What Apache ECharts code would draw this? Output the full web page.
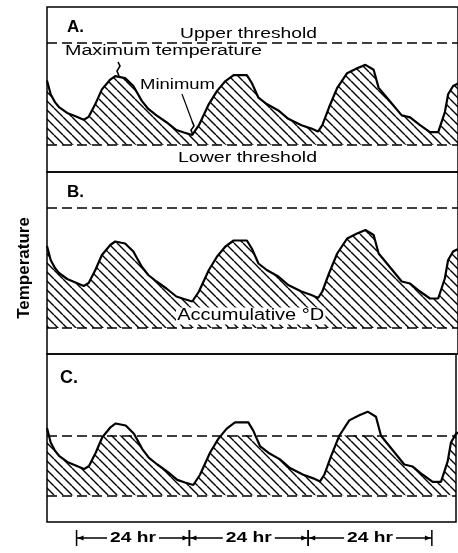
<!DOCTYPE html>
<html><head><meta charset="utf-8">
<script src="https://cdn.jsdelivr.net/npm/echarts@6/dist/echarts.min.js"></script>
<style>html,body{margin:0;padding:0;background:#fff}#c{width:458px;height:553px}</style>
</head><body><div id="c"></div>
<script>
// ---- data ----
const hours = [0, 0.75, 1.62, 2.44, 4.12, 5.82, 7.51, 8.52, 9.88, 11.22, 12.93, 13.94, 15.97, 17.65, 19.34, 20.7, 22.38, 24.41, 26.44, 28.0, 29.69, 31.05, 33.08, 34.76, 36.47, 38.15, 40.85, 41.86, 43.22, 44.91, 47.28, 49.31, 52.01, 54.04, 55.4, 56.27, 57.63, 59.31, 61.34, 63.37, 65.08, 66.76, 67.78, 69.14, 72.5, 74.21, 76.24, 78.27, 79.95, 81.31, 81.98, 83.0, 84.0];
const temperature = [26.4, 23.6, 22.0, 21.0, 19.8, 19.1, 18.4, 19.0, 21.6, 24.6, 26.6, 27.3, 26.9, 25.3, 22.3, 20.6, 19.3, 17.9, 16.3, 15.8, 15.3, 17.3, 21.6, 24.3, 26.3, 27.5, 27.5, 25.9, 22.9, 21.6, 20.3, 18.6, 17.3, 16.6, 16.0, 17.3, 20.9, 24.9, 27.9, 28.9, 29.6, 28.6, 24.9, 23.3, 19.3, 18.9, 17.3, 15.9, 15.9, 19.9, 23.6, 25.3, 25.8];
const panelLabels = ['A.', 'B.', 'C.'];
const lowerThreshold = [13.3, 10.0, 13.3];
const upperThreshold = [34.1, 34.0, 25.0];
const dayBoundaries = [6.0, 28.9, 53.0, 78.1];
const spanLabel = '24 hr';
const axisTitle = 'Temperature';

// ---- layout (pixels / axis ranges) ----
const layout = [
  {top: 7,   height: 165, yMin: 7.75, yMax: 41.4,  right: -3, xMax: 84.0},
  {top: 172, height: 182, yMin: 4.8,  yMax: 41.2,  right: -3, xMax: 84.0},
  {top: 354, height: 168, yMin: 8.09, yMax: 40.84, right: 2,  xMax: 83.0}
];
const LEFT = 47;

function hatchPattern() {
  const s = 9, c = document.createElement('canvas');
  c.width = s; c.height = s;
  const g = c.getContext('2d');
  g.strokeStyle = '#000'; g.lineWidth = 1.4;
  g.beginPath();
  for (const o of [-s, 0, s]) { g.moveTo(o, 0); g.lineTo(o + s, s); }
  g.stroke();
  return c;
}
const hatch = {image: hatchPattern(), repeat: 'repeat'};
const curve = hours.map((h, i) => [h, temperature[i]]);

const mctx = document.createElement('canvas').getContext('2d');
const FONT = '"Liberation Sans", Arial, Helvetica, sans-serif';
function txt(t, left, cy, size, targetW, weight, extra) {
  const font = (weight || 'normal') + ' ' + size + 'px ' + FONT;
  mctx.font = font;
  const sx = targetW ? targetW / mctx.measureText(t).width : 1;
  return {
    type: 'text', x: left, y: cy, scaleX: sx, z: 100,
    style: Object.assign({text: t, font: font, fill: '#000', align: 'left', verticalAlign: 'middle'}, (extra || {}))
  };
}

const grids = [], xAxes = [], yAxes = [], series = [];
function addAxes(gi, xMax, yMin, yMax) {
  xAxes.push({type: 'value', gridIndex: gi, min: 0, max: xMax, show: false});
  yAxes.push({type: 'value', gridIndex: gi, min: yMin, max: yMax, show: false});
}
const dashed = {color: '#000', type: [10, 5], width: 1.5};

layout.forEach((L, i) => {
  grids.push({left: LEFT, right: L.right, top: L.top, height: L.height, show: true,
              borderColor: '#000', borderWidth: 1.5, backgroundColor: 'transparent'});
  addAxes(i, L.xMax, L.yMin, L.yMax);
  const s = {
    type: 'line', xAxisIndex: i, yAxisIndex: i, data: curve, symbol: 'none',
    lineStyle: {color: '#000', width: 2.2}, z: 3, silent: true,
    markLine: {silent: true, symbol: ['none', 'none'], label: {show: false}, lineStyle: dashed,
               data: [{yAxis: lowerThreshold[i]}, {yAxis: upperThreshold[i]}]}
  };
  if (i < 2) s.areaStyle = {color: hatch, opacity: 1, origin: lowerThreshold[i]};
  series.push(s);
});

// Panel C: hatch only up to the upper threshold -> clip grid ending at the threshold
{
  const L = layout[2];
  const topC = L.top + (L.yMax - upperThreshold[2]) / (L.yMax - L.yMin) * L.height;
  grids.push({left: LEFT, right: L.right, top: topC, height: L.top + L.height - topC, show: false});
  addAxes(3, L.xMax, L.yMin, upperThreshold[2]);
  series.push({type: 'line', xAxisIndex: 3, yAxisIndex: 3, data: curve, symbol: 'none', clip: true,
               lineStyle: {width: 0, opacity: 0}, z: 2, silent: true,
               areaStyle: {color: hatch, opacity: 1, origin: lowerThreshold[2]}});
}

// 24 hr span markers
{
  const L = layout[2];
  grids.push({left: LEFT, right: L.right, top: 528, height: 20, show: false});
  addAxes(4, L.xMax, 0, 1);
  const spans = [];
  for (let k = 0; k < dayBoundaries.length - 1; k++) spans.push([dayBoundaries[k], dayBoundaries[k + 1]]);
  mctx.font = 'bold 15px ' + FONT;
  const labelScale = 46 / mctx.measureText(spanLabel).width;
  series.push({
    type: 'custom', xAxisIndex: 4, yAxisIndex: 4, data: spans, silent: true,
    renderItem: function (params, api) {
      const p0 = api.coord([api.value(0), 0.5]);
      const p1 = api.coord([api.value(1), 0.5]);
      const y = p0[1];
      const mid = (p0[0] + p1[0]) / 2;
      const gap = 26;
      const st = {stroke: '#000', lineWidth: 1.5};
      return {type: 'group', children: [
        {type: 'line', shape: {x1: p0[0], y1: y, x2: mid - gap, y2: y}, style: st},
        {type: 'line', shape: {x1: mid + gap, y1: y, x2: p1[0], y2: y}, style: st},
        {type: 'line', shape: {x1: p0[0], y1: y - 8, x2: p0[0], y2: y + 8}, style: st},
        {type: 'line', shape: {x1: p1[0], y1: y - 8, x2: p1[0], y2: y + 8}, style: st},
        {type: 'polygon', shape: {points: [[p0[0] + 1, y], [p0[0] + 7, y - 2.5], [p0[0] + 7, y + 2.5]]}, style: {fill: '#000'}},
        {type: 'polygon', shape: {points: [[p1[0] - 1, y], [p1[0] - 7, y - 2.5], [p1[0] - 7, y + 2.5]]}, style: {fill: '#000'}},
        {type: 'text', x: mid, y: y, scaleX: labelScale,
         style: {text: spanLabel, font: 'bold 15px ' + FONT, fill: '#000', align: 'center', verticalAlign: 'middle'}}
      ]};
    }
  });
}

const graphic = [
  txt(panelLabels[0], 67, 27, 17, 0, 'bold'),
  txt(panelLabels[1], 67, 192, 17, 0, 'bold'),
  txt(panelLabels[2], 60, 378, 18, 0, 'bold'),
  txt('Upper threshold', 180, 34, 14, 137),
  txt('Maximum temperature', 65, 51, 14, 197),
  txt('Minimum', 140, 85, 14, 75),
  txt('Lower threshold', 178, 158, 14, 139),
  txt('Accumulative °D', 176, 316, 16, 147, 'normal', {backgroundColor: '#fff', padding: [1, 1, 0, 1]}),
  {type: 'text', x: 24, y: 268, rotation: Math.PI / 2, z: 100,
   style: {text: axisTitle, font: 'bold 17px ' + FONT, fill: '#000', align: 'center', verticalAlign: 'middle'}},
  {type: 'polyline', z: 100, shape: {points: [[118, 62], [120, 66], [117, 71], [119, 76]]}, style: {stroke: '#000', lineWidth: 1.6, fill: null}},
  {type: 'polyline', z: 100, shape: {points: [[182, 94], [192, 121]]}, style: {stroke: '#000', lineWidth: 1.2, fill: null}},
  {type: 'polyline', z: 100, shape: {points: [[192, 121], [194, 126], [191, 130], [193, 135]]}, style: {stroke: '#000', lineWidth: 1.6, fill: null}}
];

const chart = echarts.init(document.getElementById('c'), null, {renderer: 'canvas'});
chart.setOption({
  animation: false,
  backgroundColor: '#fff',
  grid: grids, xAxis: xAxes, yAxis: yAxes, series: series, graphic: graphic
});
</script></body></html>
